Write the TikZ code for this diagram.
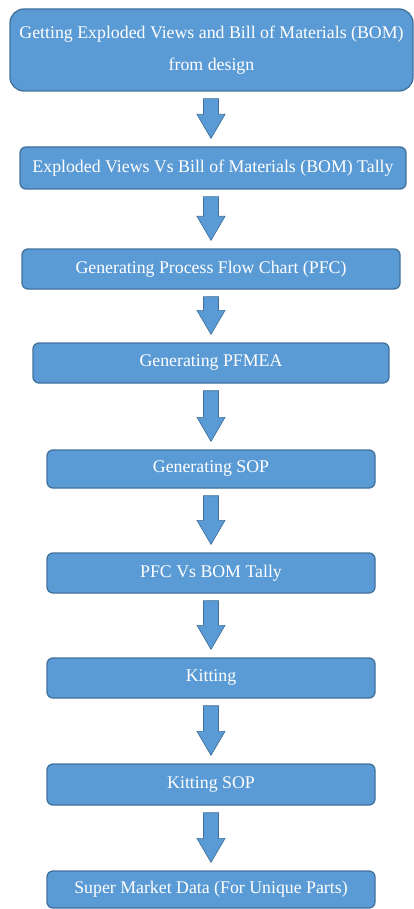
\documentclass[tikz,border=0pt]{standalone}
\usepackage{fontspec}
\setmainfont{Liberation Serif}
\usetikzlibrary{calc}
\definecolor{boxfill}{HTML}{5B9BD5}
\definecolor{boxline}{HTML}{41719C}
\tikzset{
  stepbox/.style={draw=boxline, fill=boxfill, line width=1.3pt, rounded corners=6pt,
    inner sep=0pt, text=white, align=center, font=\fontsize{17.8}{32}\selectfont},
  flowarrow/.style={draw=boxline, fill=boxfill, line width=0.7pt},
}
% block arrow pointing down, between two boxes
\newcommand\flowstep[2]{%
  \path[flowarrow] let \p1=(#1.south), \p2=(#2.north) in
    (211pt-7.5pt,\y1-7pt) -- (211pt+7.5pt,\y1-7pt) -- (211pt+7.5pt,\y2+32pt)
    -- (211pt+14pt,\y2+32pt) -- (211pt,\y2+8pt) -- (211pt-14pt,\y2+32pt)
    -- (211pt-7.5pt,\y2+32pt) -- cycle;}
\begin{document}
\begin{tikzpicture}[x=1pt,y=1pt]
\useasboundingbox (0,0) rectangle (414,-909);
\node[stepbox, rounded corners=14pt, minimum width=403pt, minimum height=82pt] (s1) at (211.5,-50)
  {Getting Exploded Views and Bill of Materials (BOM)\\from design};
\node[stepbox, minimum width=386pt, minimum height=42pt] (s2) at (213,-168)
  {Exploded Views Vs Bill of Materials (BOM) Tally};
\node[stepbox, minimum width=378pt, minimum height=40pt] (s3) at (211,-269)
  {Generating Process Flow Chart (PFC)};
\node[stepbox, minimum width=356pt, minimum height=40pt] (s4) at (211,-363)
  {Generating PFMEA};
\node[stepbox, minimum width=328pt, minimum height=38pt] (s5) at (211,-469)
  {Generating SOP};
\node[stepbox, minimum width=328pt, minimum height=40pt] (s6) at (211,-573)
  {PFC Vs BOM Tally};
\node[stepbox, minimum width=328pt, minimum height=40pt] (s7) at (211,-678)
  {Kitting};
\node[stepbox, minimum width=328pt, minimum height=41pt] (s8) at (211,-784.5)
  {Kitting SOP};
\node[stepbox, minimum width=328pt, minimum height=37pt] (s9) at (211,-889.5)
  {Super Market Data (For Unique Parts)};
\flowstep{s1}{s2}
\flowstep{s2}{s3}
\flowstep{s3}{s4}
\flowstep{s4}{s5}
\flowstep{s5}{s6}
\flowstep{s6}{s7}
\flowstep{s7}{s8}
\flowstep{s8}{s9}
\end{tikzpicture}
\end{document}
